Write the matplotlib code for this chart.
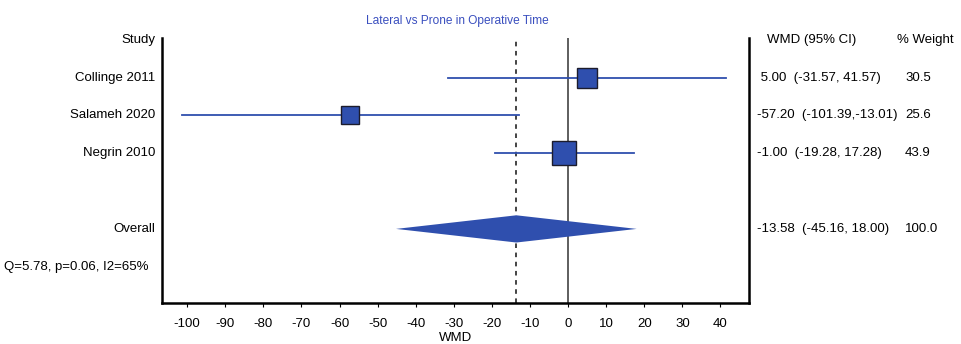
import matplotlib

matplotlib.use("Agg")
import matplotlib.pyplot as plt
import numpy as np

plt.rcParams["font.family"] = ["Liberation Sans", "DejaVu Sans"]

# data
studies = ["Collinge 2011", "Salameh 2020", "Negrin 2010"]
wmd = [5.00, -57.20, -1.00]
ci_lo = [-31.57, -101.39, -19.28]
ci_hi = [41.57, -13.01, 17.28]
weights = [30.5, 25.6, 43.9]
overall = -13.58
overall_lo = -45.16
overall_hi = 18.00
heterogeneity = "Q=5.78, p=0.06, I2=65%"
xticks = list(range(-100, 41, 10))

BLUE = "#2f4fae"
EDGE = "#1c1c2c"
FS = 9.5

fig = plt.figure(figsize=(9.61, 3.44), dpi=100)
ax = fig.add_axes([162 / 961, 1 - 303 / 344, (749 - 162) / 961, (303 - 38) / 344])
ax.set_xlim(-106.6, 47.5)
ax.set_ylim(6.96, -0.05)

rows = [1, 2, 3]
overall_row = 5
for r, m, lo, hi, w in zip(rows, wmd, ci_lo, ci_hi, weights):
    ax.plot([lo, hi], [r, r], color=BLUE, lw=1.3, zorder=2)
    ax.plot([m], [r], marker="s", ms=3.5 * np.sqrt(w) * 0.72,
            mfc=BLUE, mec=EDGE, mew=1.0, zorder=3)

# overall diamond
h = 0.36
ax.fill([overall_lo, overall, overall_hi, overall],
        [overall_row, overall_row - h, overall_row, overall_row + h],
        color=BLUE, lw=0, zorder=3)

ax.axvline(0, color="#333333", lw=1.1, zorder=1)
ax.axvline(overall, color="#111111", lw=1.1, ls=(0, (3, 3)), zorder=1)

ax.spines["top"].set_visible(False)
for side in ["left", "right", "bottom"]:
    ax.spines[side].set_linewidth(1.8)
ax.set_yticks([])
ax.set_xticks(xticks)
ax.set_xticklabels([str(t) for t in xticks], fontsize=FS)
ax.tick_params(axis="x", length=3, width=0.8, pad=8)
ax.set_xlabel("WMD", fontsize=FS, labelpad=1)

ax.set_title("Lateral vs Prone in Operative Time", fontsize=8.6,
             color="#3a4fbf", pad=10, x=(457 - 162) / (749 - 162))

# left labels
tr = ax.get_yaxis_transform()
ax.text(-0.012, 0, "Study", transform=tr, ha="right", va="center", fontsize=FS)
for r, s in zip(rows, studies):
    ax.text(-0.012, r, s, transform=tr, ha="right", va="center", fontsize=FS)
ax.text(-0.012, overall_row, "Overall", transform=tr, ha="right",
        va="center", fontsize=FS)
ax.text(-158 / 587, 6, heterogeneity, transform=tr, ha="left",
        va="center", fontsize=FS)

# right columns
xc1 = (757 - 162) / 587
xc2 = (905 - 162) / 587
ax.text((767 - 162) / 587, 0, "WMD (95% CI)", transform=tr, ha="left",
        va="center", fontsize=FS)
ax.text((897 - 162) / 587, 0, "% Weight", transform=tr, ha="left",
        va="center", fontsize=FS)
for r, m, lo, hi, w in zip(rows, wmd, ci_lo, ci_hi, weights):
    if lo > -100:
        label = f"{' ' if m >= 0 else ''}{m:.2f}  ({lo:.2f}, {hi:.2f})"
    else:
        label = f"{m:.2f}  ({lo:.2f},{hi:.2f})"
    ax.text(xc1, r, label, transform=tr, ha="left", va="center", fontsize=FS)
    ax.text(xc2, r, f"{w:.1f}", transform=tr, ha="left", va="center",
            fontsize=FS)
ax.text(xc1, overall_row, f"{overall:.2f}  ({overall_lo:.2f}, {overall_hi:.2f})",
        transform=tr, ha="left", va="center", fontsize=FS)
ax.text(xc2, overall_row, "100.0", transform=tr, ha="left", va="center",
        fontsize=FS)

fig.savefig("out.png", dpi=100)
